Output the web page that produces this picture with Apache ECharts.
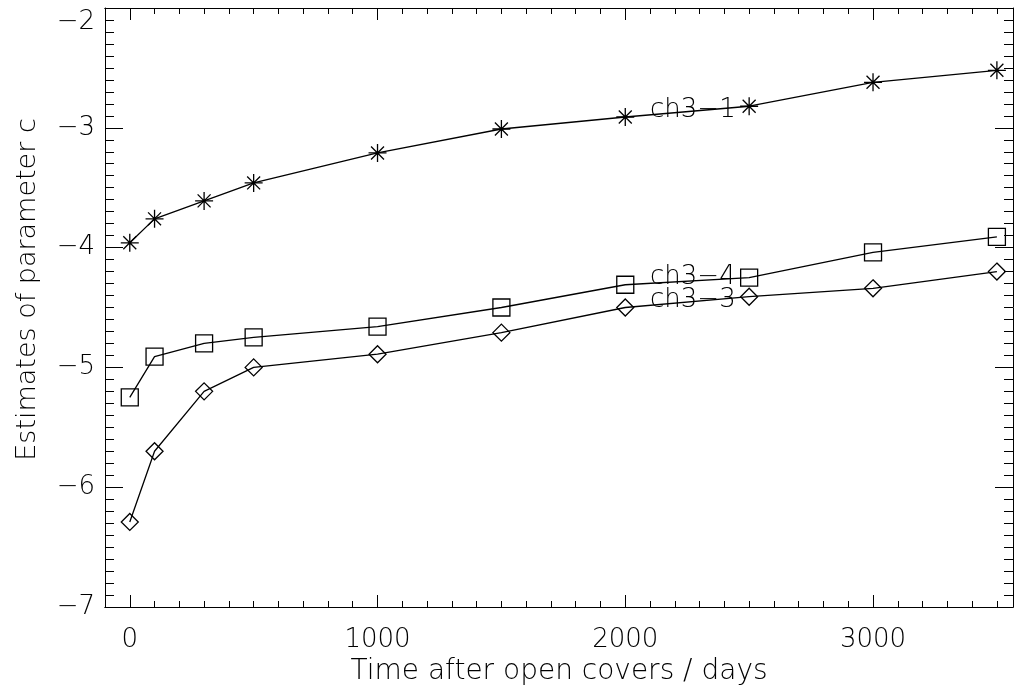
<!DOCTYPE html>
<html lang="en">
<head>
	<meta charset="UTF-8">
	<title>Estimates of parameter c</title>
	<script src="https://cdn.jsdelivr.net/npm/echarts@6/dist/echarts.min.js"></script>
	<style type="text/css">
		html, body { margin: 0; padding: 0; background: #fff; }
		#main { width: 1016px; height: 693px; }
	</style>
</head>
<body>
	<div id="main"></div>
	<script type="text/javascript">
		// days after open covers
		var days = [0, 100, 300, 500, 1000, 1500, 2000, 2500, 3000, 3500];
		var ch3_1 = [-3.96, -3.76, -3.61, -3.46, -3.21, -3.01, -2.91, -2.82, -2.62, -2.52];
		var ch3_4 = [-5.25, -4.91, -4.80, -4.75, -4.66, -4.50, -4.31, -4.25, -4.04, -3.91];
		var ch3_3 = [-6.29, -5.70, -5.20, -5.00, -4.89, -4.71, -4.50, -4.41, -4.34, -4.20];

		// curve labels: text, x (days), y (value)
		var labelText = ['ch3\u22121', 'ch3\u22124', 'ch3\u22123'];
		var labelX = [2100, 2100, 2100];
		var labelY = [-2.85, -4.25, -4.44];

		var xMajorTicks = [0, 1000, 2000, 3000];
		var xMinorTicks = [];
		for (var t = -100; t <= 3500; t += 100) xMinorTicks.push(t);

		var X_MIN = -100, X_MAX = 3565;
		var Y_MIN = -7, Y_MAX = -2;
		var FONT = 'DejaVu Sans';
		var WEIGHT = 200;

		function pairs(xs, ys) {
			var out = [];
			for (var i = 0; i < xs.length; i++) out.push([xs[i], ys[i]]);
			return out;
		}

		function minus(v) {
			return String(v).replace('-', '\u2212');
		}

		var axisLine = { show: true, onZero: false, lineStyle: { color: '#000', width: 1 } };

		function xAx(pos, major, showLabel) {
			var vals = major ? xMajorTicks : xMinorTicks;
			return {
				type: 'value', position: pos, min: X_MIN, max: X_MAX,
				axisLine: axisLine,
				splitLine: { show: false },
				axisTick: { show: true, inside: true, length: major ? 12 : 6, customValues: vals,
					lineStyle: { color: '#000', width: 1 } },
				axisLabel: { show: showLabel, customValues: xMajorTicks, margin: 20,
					color: '#000', fontFamily: FONT, fontWeight: WEIGHT, fontSize: 26,
					formatter: function (v) { return minus(v); } },
				name: showLabel ? 'Time after open covers / days' : '',
				nameLocation: 'middle', nameGap: 51,
				nameTextStyle: { color: '#000', fontFamily: FONT, fontWeight: WEIGHT, fontSize: 28 }
			};
		}

		function yAx(pos, showLabel) {
			var txt = { color: '#000', fontFamily: FONT, fontWeight: WEIGHT, fontSize: 26 };
			return {
				type: 'value', position: pos, min: Y_MIN, max: Y_MAX, interval: 1,
				axisLine: axisLine,
				splitLine: { show: false },
				axisTick: { show: true, inside: true, length: 18, lineStyle: { color: '#000', width: 1 } },
				minorTick: { show: true, splitNumber: 10, length: 9, lineStyle: { color: '#000', width: 1 } },
				minorSplitLine: { show: false },
				axisLabel: { show: showLabel, margin: 10, color: '#000', fontFamily: FONT, fontWeight: WEIGHT,
					fontSize: 26,
					rich: { top: Object.assign({ padding: [28, 0, 0, 0] }, txt) },
					formatter: function (v) {
						// top label sits a little lower so it stays inside the page
						return v === Y_MAX ? '{top|' + minus(v) + '}' : minus(v);
					} },
				name: showLabel ? 'Estimates of parameter c' : '',
				nameLocation: 'middle', nameGap: 64,
				nameTextStyle: { color: '#000', fontFamily: FONT, fontWeight: WEIGHT, fontSize: 27,
					padding: [0, 0, 0, 36] }
			};
		}

		var symbolStyle = { color: 'rgba(0,0,0,0)', borderColor: '#000', borderWidth: 1.3 };
		var lineStyle = { color: '#000', width: 1.3 };
		var asterisk = 'path://M0,-1L0,1M-1,0L1,0M-0.72,-0.72L0.72,0.72M-0.72,0.72L0.72,-0.72';

		function lineSeries(name, ys, symbol, size) {
			return {
				name: name, type: 'line', xAxisIndex: 0, yAxisIndex: 0,
				data: pairs(days, ys),
				symbol: symbol, symbolSize: size, showAllSymbol: true,
				itemStyle: symbolStyle, lineStyle: lineStyle,
				emphasis: { disabled: true }, animation: false, z: 3
			};
		}

		var labelData = [];
		for (var i = 0; i < labelText.length; i++) {
			labelData.push({ name: labelText[i], value: [labelX[i], labelY[i]] });
		}

		var option = {
			backgroundColor: '#fff',
			animation: false,
			grid: { left: 105, right: 3, top: 8, bottom: 86, outerBoundsMode: 'none', containLabel: false },
			xAxis: [xAx('bottom', true, true), xAx('bottom', false, false),
				xAx('top', true, false), xAx('top', false, false)],
			yAxis: [yAx('left', true), yAx('right', false)],
			series: [
				{
					name: 'labels', type: 'scatter', data: labelData, symbolSize: 0,
					xAxisIndex: 0, yAxisIndex: 0, z: 1,
					itemStyle: { opacity: 1 },
					label: { show: true, position: 'right', distance: 0, formatter: '{b}',
						color: '#000', fontFamily: FONT, fontWeight: WEIGHT, fontSize: 26 },
					emphasis: { disabled: true }
				},
				lineSeries('ch3-1', ch3_1, asterisk, 18),
				lineSeries('ch3-4', ch3_4, 'rect', 17),
				lineSeries('ch3-3', ch3_3, 'diamond', [17, 17])
			]
		};

		var chart = echarts.init(document.getElementById('main'), null, { renderer: 'canvas' });
		chart.setOption(option);
	</script>
</body>
</html>
